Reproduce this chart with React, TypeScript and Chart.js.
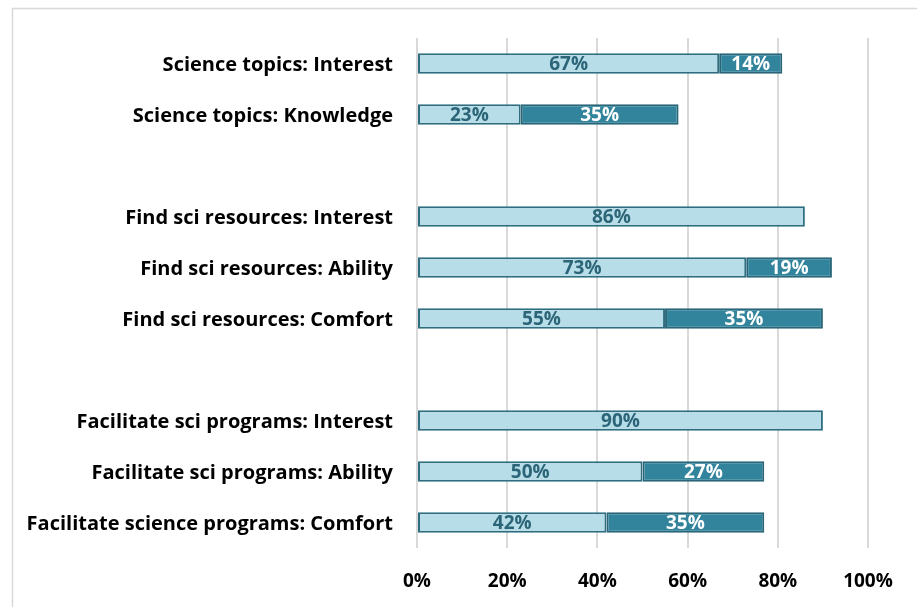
import React, { useEffect, useRef } from "react";
import { Chart, registerables } from "chart.js";

Chart.register(...registerables);

const categories = [
  "Science topics: Interest",
  "Science topics: Knowledge",
  "",
  "Find sci resources: Interest",
  "Find sci resources: Ability",
  "Find sci resources: Comfort",
  "",
  "Facilitate sci programs: Interest",
  "Facilitate sci programs: Ability",
  "Facilitate science programs: Comfort",
];
const seriesA = [67, 23, null, 86, 73, 55, null, 90, 50, 42];
const seriesB = [14, 35, null, 0, 19, 35, null, 0, 27, 35];
const xTicks = [0, 20, 40, 60, 80, 100];

const FONT = "'Open Sans', Lato, sans-serif";

const labelPlugin = {
  id: "barLabels",
  afterDatasetsDraw(chart: any) {
    const ctx = chart.ctx;
    ctx.save();
    ctx.font = `bold 19px ${FONT}`;
    ctx.textAlign = "center";
    ctx.textBaseline = "middle";
    chart.data.datasets.forEach((ds: any, di: number) => {
      const meta = chart.getDatasetMeta(di);
      meta.data.forEach((bar: any, i: number) => {
        const v = ds.data[i];
        if (v == null || v === 0) return;
        const cx = (bar.x + bar.base) / 2;
        ctx.fillStyle = di === 0 ? "#2b6577" : "#ffffff";
        ctx.fillText(`${v}%`, cx, bar.y + 1);
      });
    });
    ctx.restore();
  },
};

const framePlugin = {
  id: "frame",
  beforeDraw(chart: any) {
    const ctx = chart.ctx;
    ctx.save();
    ctx.fillStyle = "#ffffff";
    ctx.fillRect(0, 0, chart.width, chart.height);
    ctx.strokeStyle = "#d9d9d9";
    ctx.lineWidth = 1.5;
    ctx.strokeRect(12.5, 8.5, chart.width + 20, chart.height + 20);
    ctx.restore();
  },
};

export default function App() {
  const ref = useRef<HTMLCanvasElement>(null);
  useEffect(() => {
    const chart = new Chart(ref.current!, {
      type: "bar",
      data: {
        labels: categories,
        datasets: [
          {
            data: seriesA as any,
            backgroundColor: "#b7dde8",
            borderColor: "#2e6e80",
            borderWidth: 2,
            borderSkipped: false,
            categoryPercentage: 0.8,
            barPercentage: 0.5,
          },
          {
            data: seriesB as any,
            backgroundColor: "#31849b",
            borderColor: "#2a6677",
            borderWidth: 2,
            borderSkipped: false,
            categoryPercentage: 0.8,
            barPercentage: 0.5,
          },
        ],
      },
      options: {
        indexAxis: "y",
        animation: false,
        responsive: false,
        devicePixelRatio: 1,
        layout: { padding: { left: 0, top: 38, right: 49, bottom: 0 } },
        plugins: { legend: { display: false }, tooltip: { enabled: false } },
        scales: {
          x: {
            stacked: true,
            min: 0,
            max: 100,
            afterBuildTicks(scale: any) {
              scale.ticks = xTicks.map((v) => ({ value: v }));
            },
            afterFit(scale: any) {
              scale.height = 59;
            },
            grid: { color: "#d9d9d9", lineWidth: 2, drawTicks: false },
            border: { display: false },
            ticks: {
              padding: 22,
              color: "#000000",
              font: { family: FONT, size: 19, weight: "bold" },
              callback: (v: any) => `${v}%`,
            },
          },
          y: {
            stacked: true,
            afterFit(scale: any) {
              scale.width = 417;
            },
            grid: { display: false },
            border: { display: false },
            ticks: {
              padding: 16,
              labelOffset: 2,
              color: "#000000",
              autoSkip: false,
              font: { family: FONT, size: 20, weight: "bold" },
            },
          },
        },
      },
      plugins: [framePlugin, labelPlugin],
    });
    return () => chart.destroy();
  }, []);
  return (
    <canvas
      ref={ref}
      width={917}
      height={607}
      style={{ position: "fixed", left: 0, top: 0, width: 917, height: 607 }}
    />
  );
}
